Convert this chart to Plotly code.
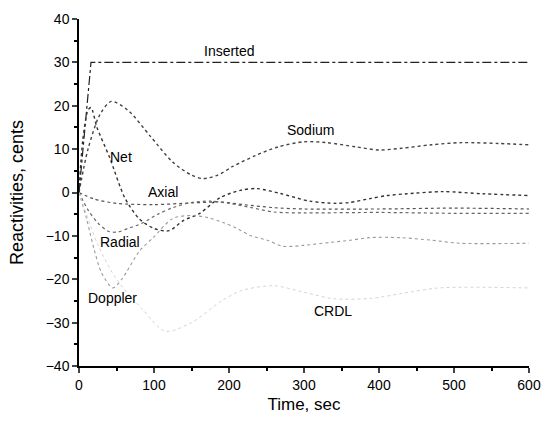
import plotly.graph_objects as go

# ---- data ----
t_inserted = [0, 16, 600]
v_inserted = [0, 30, 30]

t_sodium = [0, 12, 28, 43, 65, 95, 125, 150, 165, 185, 205, 235, 265, 300, 330, 370, 400, 430, 470, 510, 560, 600]
v_sodium = [0, 10, 18, 21, 19, 13, 7, 4, 3.2, 4, 6, 8.5, 10.5, 11.7, 11.5, 10.5, 9.8, 10.2, 11, 11.5, 11.3, 11]

t_net = [0, 5, 12, 16, 24, 41, 61, 80, 100, 120, 139, 161, 188, 215, 237, 268, 308, 343, 361, 388, 411, 437, 485, 539, 600]
v_net = [0, 12, 19, 19.6, 15, 8, -1.2, -6, -8.3, -8.8, -6.5, -4.8, -1.2, 0.5, 0.9, -0.2, -2, -2.5, -2.3, -1.4, -0.7, -0.3, 0.2, -0.3, -0.7]

t_axial = [0, 20, 50, 100, 150, 190, 220, 260, 300, 400, 500, 600]
v_axial = [0, -1.5, -2.5, -2.8, -2.4, -2.2, -2.8, -3.5, -3.8, -3.8, -3.6, -3.8]

t_radial = [0, 12, 25, 40, 52, 65, 84, 105, 125, 150, 175, 200, 230, 260, 300, 400, 500, 600]
v_radial = [0, -4, -7, -9, -9.1, -8.3, -7.1, -5, -3.5, -2.3, -2, -2.5, -3.5, -4.5, -4.7, -4.6, -4.8, -4.8]

t_doppler = [0, 10, 20, 30, 45, 57, 81, 99, 125, 150, 172, 192, 211, 228, 251, 272, 299, 335, 362, 388, 428, 470, 508, 600]
v_doppler = [0, -6, -13, -18.5, -22, -20, -13.4, -10.4, -6, -5.3, -5.8, -6.9, -8.3, -9.9, -11, -12.4, -12.2, -11.5, -11, -10.4, -10.4, -11, -11.7, -11.7]

t_crdl = [0, 10, 25, 50, 85, 115, 150, 190, 217, 260, 300, 340, 390, 430, 480, 600]
v_crdl = [0, -5, -12, -20, -27, -32, -30, -25, -22.6, -21.5, -23, -24.5, -24.4, -23.3, -22, -22]

x_ticks = [0, 100, 200, 300, 400, 500, 600]
y_ticks = [-40, -30, -20, -10, 0, 10, 20, 30, 40]

labels = ["Inserted", "Sodium", "Net", "Axial", "Radial", "Doppler", "CRDL"]
label_t = [201, 308, 56, 112, 55, 44, 339]
label_v = [32.7, 14.3, 8.3, 0.2, -11.5, -24.4, -27.4]

fig = go.Figure()

def add(t, v, color, dash, width=1.2, shape="spline"):
    fig.add_trace(go.Scatter(x=t, y=v, mode="lines",
                             line=dict(color=color, dash=dash, width=width, shape=shape, smoothing=0.8),
                             showlegend=False, hoverinfo="skip"))

add(t_inserted, v_inserted, "#222222", "dashdot", 1.2, "linear")
add(t_sodium, v_sodium, "#444444", "dot", 1.4)
add(t_net, v_net, "#333333", "dot", 1.4)
add(t_axial, v_axial, "#555555", "dot", 1.2)
add(t_radial, v_radial, "#666666", "dot", 1.2)
add(t_doppler, v_doppler, "#9a9a9a", "dot", 1.1)
add(t_crdl, v_crdl, "#d4d4d4", "dot", 1.0)

for name, tx, vy in zip(labels, label_t, label_v):
    fig.add_annotation(x=tx, y=vy, text=name, showarrow=False,
                       font=dict(family="Arial, Liberation Sans, sans-serif", size=14, color="black"))

fig.update_layout(
    width=542, height=424,
    margin=dict(l=79, r=13, t=19, b=58, autoexpand=False),
    paper_bgcolor="white", plot_bgcolor="white",
    font=dict(family="Arial, Liberation Sans, sans-serif", color="black"),
    xaxis=dict(range=[0, 600], tickvals=x_ticks, ticks="outside", ticklen=5, tickwidth=1.5,
               showline=True, linecolor="black", linewidth=1.5, showgrid=False, zeroline=False,
               automargin=False,
               minor=dict(ticks="outside", ticklen=3, dtick=50, tickcolor="black"),
               tickfont=dict(size=14),
               title=dict(text="Time, sec", font=dict(size=17), standoff=7)),
    yaxis=dict(range=[-40, 40], tickvals=y_ticks, ticks="outside", ticklen=5, tickwidth=1.5,
               showline=True, linecolor="black", linewidth=1.5, showgrid=False, zeroline=False,
               automargin=False,
               minor=dict(ticks="outside", ticklen=3, dtick=5, tickcolor="black"),
               tickfont=dict(size=14),
               title=dict(text="Reactivities, cents", font=dict(size=18), standoff=17)),
)

fig.write_html("out.html", config={"displayModeBar": False},
               post_script="document.body.style.margin='0';document.body.style.overflow='hidden';")
